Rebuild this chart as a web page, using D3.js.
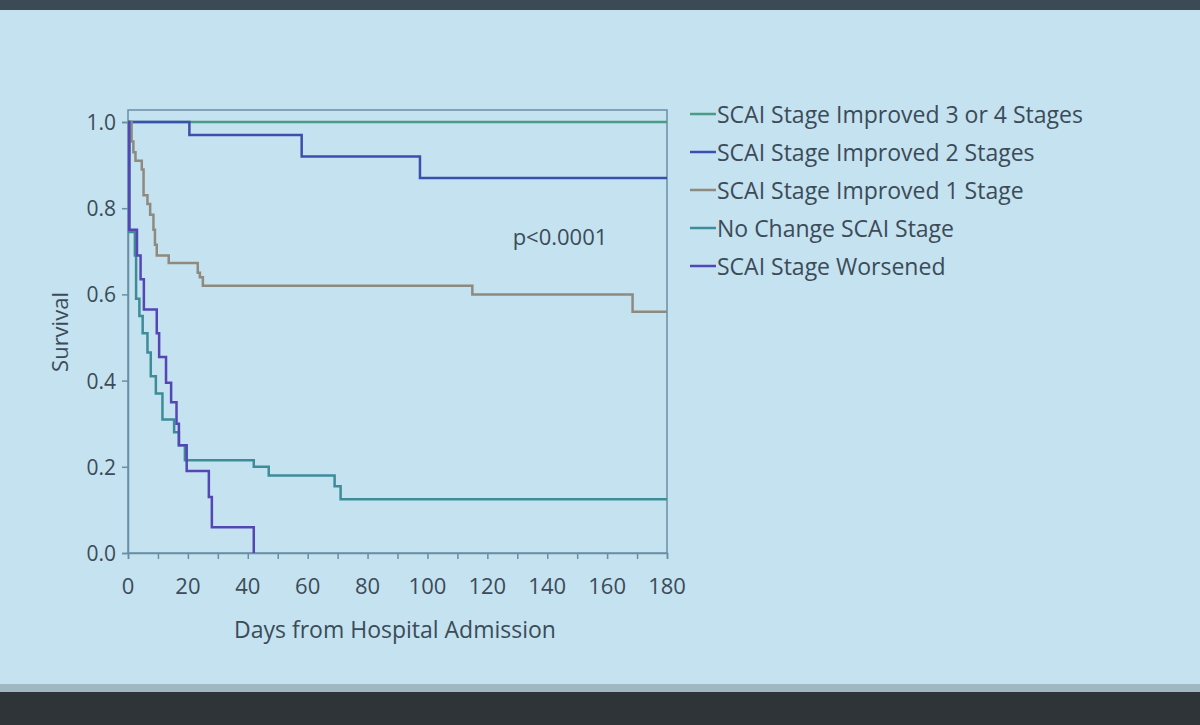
<!DOCTYPE html>
<html><head><meta charset="utf-8">
<script src="https://cdn.jsdelivr.net/npm/d3@7"></script>
<style>body{margin:0;background:#c4e2ef}svg{display:block}</style>
</head><body>
<svg id="c" width="1200" height="725"></svg>
<script>
// step points [day, survival]
const improved34 = [[0,1],[180,1]];
const improved2 = [[0,1],[20.5,0.97],[58,0.92],[97.5,0.87],[180,0.87]];
const improved1 = [[0,1],[1.2,0.955],[1.8,0.93],[2.5,0.91],[4.6,0.89],[5.2,0.83],[6.5,0.81],[7.4,0.785],[8.5,0.75],[9,0.715],[9.6,0.69],[13.6,0.673],[23.3,0.65],[24,0.64],[25,0.62],[115,0.60],[168.5,0.56],[180,0.56]];
const noChange = [[0,1],[0.5,0.745],[2.3,0.69],[2.7,0.59],[3.8,0.55],[4.9,0.51],[6.5,0.465],[7.6,0.41],[9.3,0.37],[11.5,0.31],[15.4,0.28],[17,0.25],[19,0.215],[42,0.20],[47,0.18],[69,0.155],[71,0.125],[180,0.125]];
const worsened = [[0,1],[0.4,0.75],[3,0.69],[4.2,0.635],[5.3,0.565],[9.6,0.51],[10.4,0.455],[12.7,0.395],[14.4,0.35],[16.2,0.30],[17,0.25],[19.6,0.19],[27,0.13],[28,0.06],[42,0],[42,0]];
const seriesNames = ["SCAI Stage Improved 3 or 4 Stages","SCAI Stage Improved 2 Stages","SCAI Stage Improved 1 Stage","No Change SCAI Stage","SCAI Stage Worsened"];
const seriesData = [improved34, improved2, improved1, noChange, worsened];
const colors = ["#4b9c86","#3a4fae","#8f8a7f","#3d8d98","#5546b6"];
const xTicks = [0,20,40,60,80,100,120,140,160,180];
const yTicks = [0,0.2,0.4,0.6,0.8,1.0];

const svg = d3.select("#c");
svg.append("rect").attr("width",1200).attr("height",10).attr("fill","#3c4a55");
svg.append("rect").attr("y",690).attr("width",1200).attr("height",35).attr("fill","#2e3438");
svg.append("rect").attr("y",684).attr("width",1200).attr("height",8).attr("fill","#9fb8c2");

const x = d3.scaleLinear().domain([0,180]).range([128,667]);
const y = d3.scaleLinear().domain([0,1]).range([553,122]);
const ink = "#3c4b58", axisCol = "#6a8ea6";

// frame
svg.append("rect").attr("x",128).attr("y",110).attr("width",539).attr("height",443)
  .attr("fill","none").attr("stroke",axisCol).attr("stroke-width",1.5);

const xa = svg.append("g").attr("transform","translate(0,553)")
  .call(d3.axisBottom(x).tickValues(d3.range(0,181,10)).tickSize(6).tickFormat(""));
const ya = svg.append("g").attr("transform","translate(128,0)")
  .call(d3.axisLeft(y).tickValues(yTicks).tickSize(6).tickFormat(""));
[xa,ya].forEach(a=>{a.selectAll("path,line").attr("stroke",axisCol).attr("stroke-width",1.5);});

svg.selectAll(".xl").data(xTicks).join("text").attr("x",d=>x(d)).attr("y",594)
  .attr("text-anchor","middle").attr("font-family","Open Sans, sans-serif").attr("font-size",22).attr("fill",ink).text(d=>d);
svg.selectAll(".yl").data(yTicks).join("text").attr("x",116).attr("y",d=>y(d)+8)
  .attr("text-anchor","end").attr("font-family","Open Sans, sans-serif").attr("font-size",21).attr("fill",ink).text(d=>d.toFixed(1));

svg.append("text").attr("x",395).attr("y",638).attr("text-anchor","middle")
  .attr("font-family","Open Sans, sans-serif").attr("font-size",23).attr("fill",ink).text("Days from Hospital Admission");
svg.append("text").attr("transform","translate(68,332) rotate(-90)").attr("text-anchor","middle")
  .attr("font-family","Open Sans, sans-serif").attr("font-size",22).attr("fill",ink).text("Survival");
svg.append("text").attr("x",560).attr("y",245).attr("text-anchor","middle")
  .attr("font-family","Open Sans, sans-serif").attr("font-size",22).attr("fill",ink).text("p<0.0001");

const line = d3.line().x(d=>x(d[0])).y(d=>y(d[1])).curve(d3.curveStepAfter);
svg.selectAll(".km").data(seriesData).join("path").attr("d",line).attr("fill","none")
  .attr("stroke",(d,i)=>colors[i]).attr("stroke-width",2.5);

const lg = svg.selectAll(".lg").data(seriesNames).join("g")
  .attr("transform",(d,i)=>`translate(690,${114+i*38})`);
lg.append("line").attr("x1",0).attr("x2",26).attr("y1",0).attr("y2",0)
  .attr("stroke",(d,i)=>colors[i]).attr("stroke-width",2.5);
lg.append("text").attr("x",27).attr("y",9).attr("font-family","Open Sans, sans-serif")
  .attr("font-size",23).attr("fill",ink).text(d=>d);
</script>
</body></html>
